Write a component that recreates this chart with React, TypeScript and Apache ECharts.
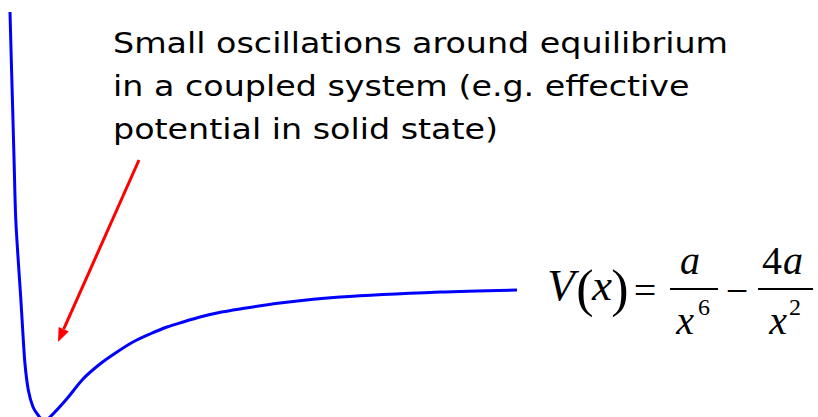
import React, { useEffect, useRef } from "react";
import * as echarts from "echarts";

// Potential curve (r in arbitrary length units, V in arbitrary energy units)
const rValues = [
  0.10, 0.113, 0.127, 0.142, 0.157, 0.182, 0.207, 0.227, 0.25, 0.283, 0.33, 0.38, 0.44,
  0.50, 0.667, 0.83, 1.00, 1.17, 1.33, 1.50, 1.67, 1.83, 2.00, 2.17, 2.40, 2.80, 3.40, 4.40, 5.17,
];
const vValues = [
  6.95, 5.75, 4.5, 3.125, 1.8, 0.75, -0.175, -1.0, -1.85, -2.5, -2.925, -3.125, -3.275,
  -3.175, -2.725, -2.225, -1.85, -1.55, -1.3, -1.1, -0.925, -0.8, -0.675, -0.575, -0.475, -0.325, -0.175, -0.05, 0.0,
];

const annotationLines = [
  "Small oscillations around equilibrium",
  "in a coupled system (e.g. effective",
  "potential in solid state)",
];

export default function App() {
  const ref = useRef<HTMLDivElement>(null);
  useEffect(() => {
    document.body.style.margin = "0";
    const chart = echarts.init(ref.current!, null, { renderer: "svg" });
    const serif = "'Liberation Serif', 'Times New Roman', serif";
    const textFont = "'DejaVu Sans', 'Noto Sans', sans-serif";
    const textSize = 28;
    // stretch annotation horizontally so the first line spans the same width as in the reference
    const cv = document.createElement("canvas").getContext("2d")!;
    cv.font = `${textSize}px ${textFont}`;
    const w1 = cv.measureText(annotationLines[0]).width || 560;
    const sX = 615 / w1;

    const it = (t: string, x: number, y: number, size: number, italic = true) => ({
      type: "text",
      x,
      y,
      silent: true,
      style: {
        text: t,
        fill: "#000",
        font: `${italic ? "italic " : ""}${size}px ${serif}`,
        align: "center",
        verticalAlign: "middle",
      },
    });
    // arrow geometry
    const sx = 139, sy = 160, tx = 58, ty = 342;
    const dx = tx - sx, dy = ty - sy;
    const len = Math.hypot(dx, dy);
    const ux = dx / len, uy = dy / len;
    const hl = 14, hw = 5.5;
    const bx = tx - hl * ux, by = ty - hl * uy;
    const nx = -uy, ny = ux;

    chart.setOption({
      animation: false,
      grid: { left: 0, right: 0, top: 0, bottom: 0 },
      xAxis: { type: "value", min: 0, max: 8.18, show: false },
      yAxis: { type: "value", min: -3.175, max: 7.25, show: false },
      series: [
        {
          type: "line",
          data: rValues.map((r, i) => [r, vValues[i]]),
          smooth: 0.3,
          showSymbol: false,
          clip: true,
          lineStyle: { color: "#0000ff", width: 3 },
        },
      ],
      graphic: [
        ...annotationLines.map((t, i) => ({
          type: "text",
          x: 113,
          y: 43 + i * 43,
          scaleX: sX,
          silent: true,
          style: {
            text: t,
            fill: "#000",
            font: `${textSize}px ${textFont}`,
            align: "left",
            verticalAlign: "middle",
          },
        })),
        {
          type: "line",
          silent: true,
          shape: { x1: sx, y1: sy, x2: bx, y2: by },
          style: { stroke: "#ff0000", lineWidth: 3 },
        },
        {
          type: "polygon",
          silent: true,
          shape: {
            points: [
              [tx, ty],
              [bx + hw * nx, by + hw * ny],
              [bx - hw * nx, by - hw * ny],
            ],
          },
          style: { fill: "#ff0000" },
        },
        it("V", 561, 285, 45),
        it("(", 585, 288, 52, false),
        it("x", 602, 285, 45),
        it(")", 620, 288, 52, false),
        it("=", 645, 290, 40, false),
        it("a", 690, 260, 40),
        {
          type: "line",
          silent: true,
          shape: { x1: 670, y1: 289, x2: 718, y2: 289 },
          style: { stroke: "#000", lineWidth: 2 },
        },
        it("x", 685, 320, 40),
        it("6", 704, 307, 24, false),
        it("\u2212", 737, 290, 40, false),
        it("4", 772, 260, 40, false),
        it("a", 793, 260, 40),
        {
          type: "line",
          silent: true,
          shape: { x1: 758, y1: 289, x2: 813, y2: 289 },
          style: { stroke: "#000", lineWidth: 2 },
        },
        it("x", 778, 320, 40),
        it("2", 795, 307, 24, false),
      ],
    });
    return () => chart.dispose();
  }, []);
  return <div ref={ref} style={{ width: 818, height: 417 }} />;
}
